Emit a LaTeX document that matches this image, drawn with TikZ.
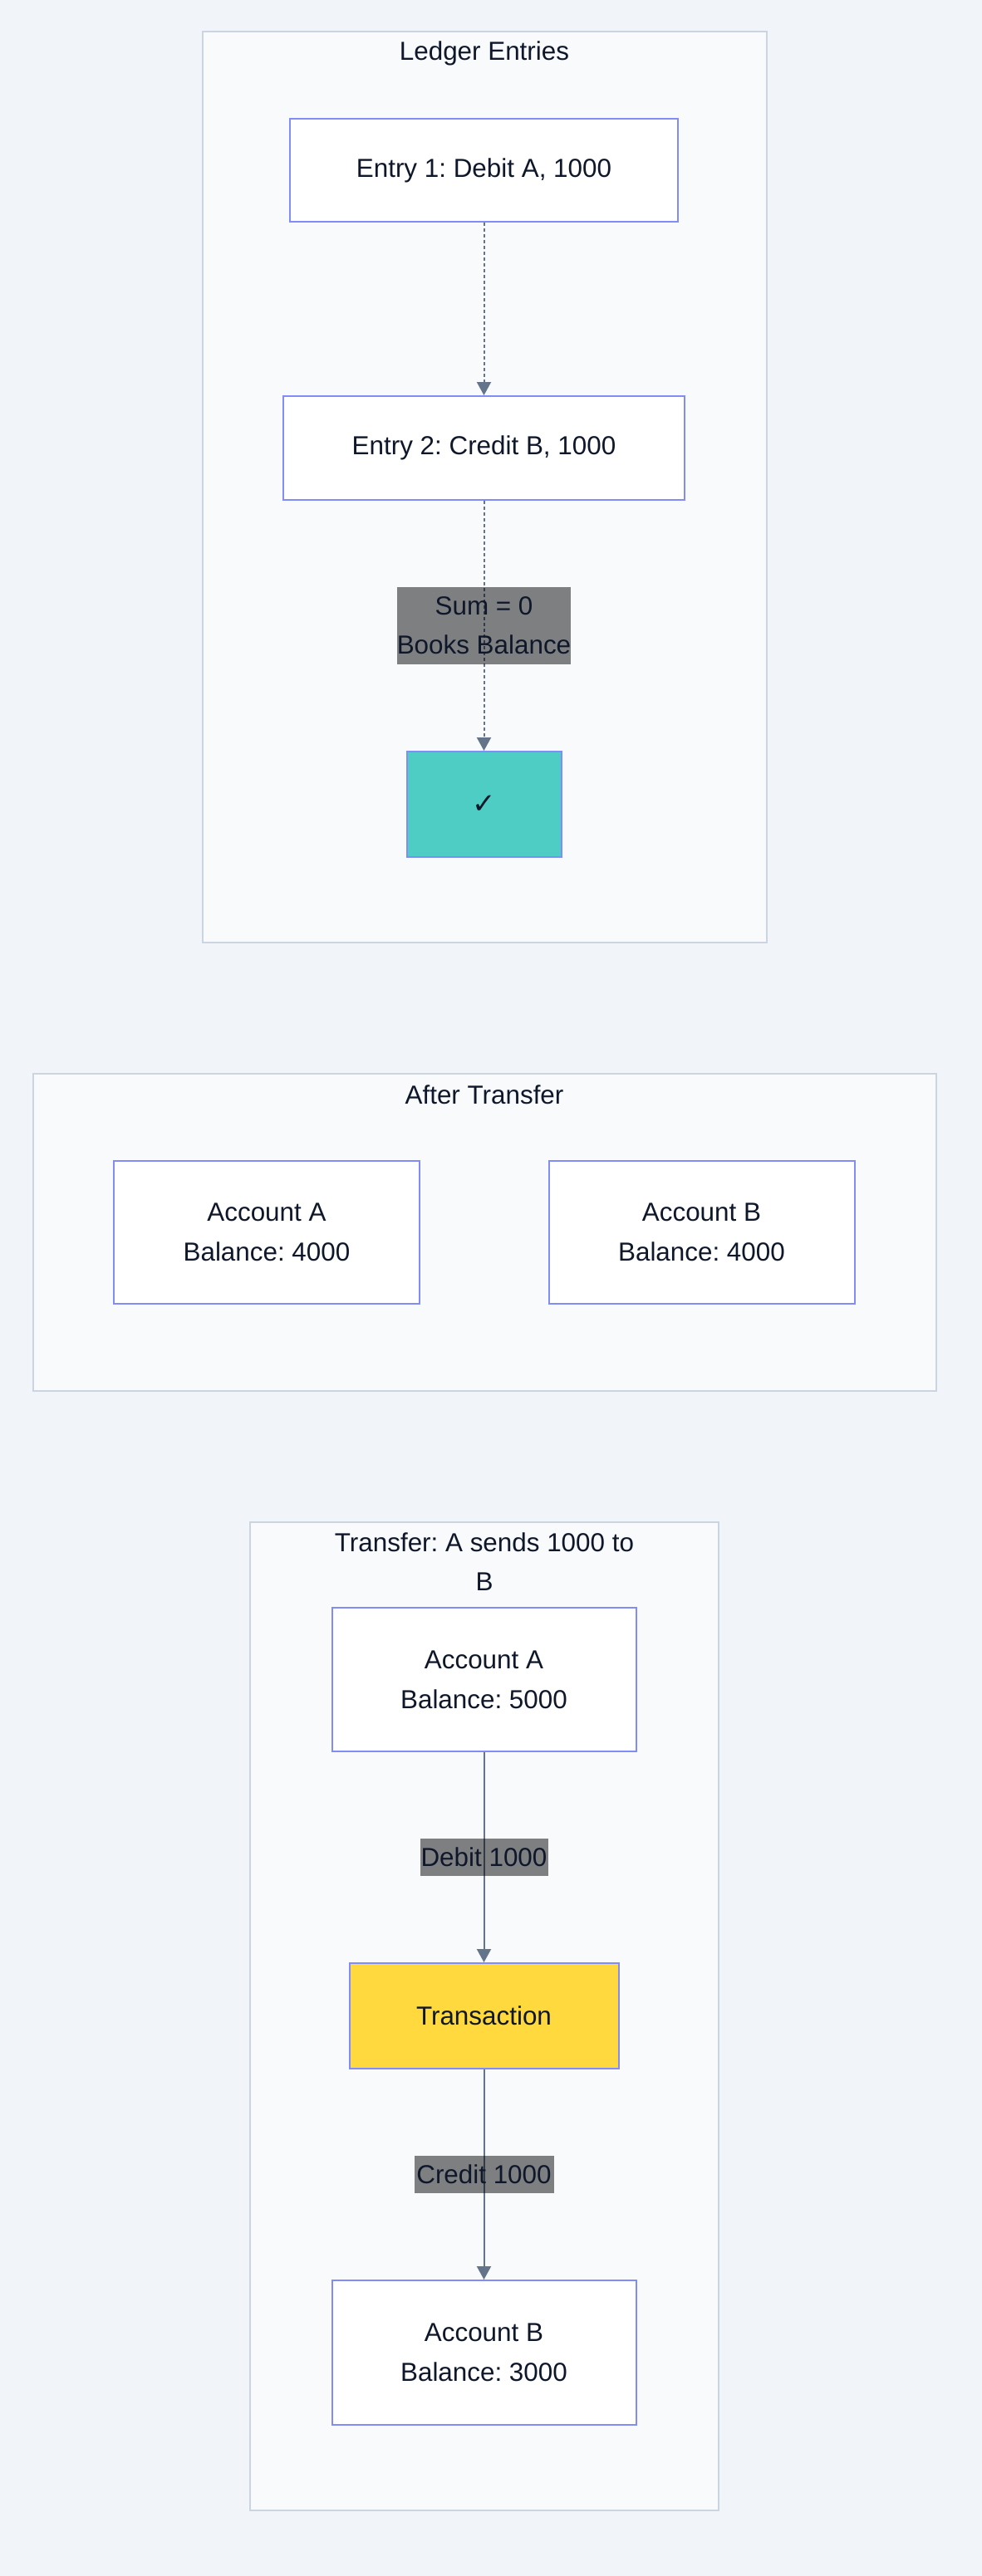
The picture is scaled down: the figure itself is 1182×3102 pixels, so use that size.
\documentclass[tikz,border=0pt]{standalone}
\usepackage{fontspec}
\setmainfont{Liberation Sans}
\newfontfamily\symfont{DejaVu Sans}
\usetikzlibrary{arrows.meta}
\frenchspacing

\definecolor{pagebg}{HTML}{F1F5F9}
\definecolor{clusterfill}{HTML}{F8FAFC}
\definecolor{clusterline}{HTML}{CBD5E1}
\definecolor{nodeline}{HTML}{818CF8}
\definecolor{edgeline}{HTML}{64748B}
\definecolor{textcol}{HTML}{0F172A}
\definecolor{checkfill}{HTML}{4ECDC4}
\definecolor{txfill}{HTML}{FFD93D}

\tikzset{
  cluster/.style={draw=clusterline, fill=clusterfill, line width=1pt},
  clustertitle/.style={text=textcol, align=center, inner sep=0pt,
    font=\fontsize{15.7}{23.5}\selectfont},
  box/.style={shape=rectangle, draw=nodeline, fill=white, line width=1pt,
    text=textcol, align=center, inner sep=0pt,
    font=\fontsize{15.7}{24}\selectfont},
  edgelabel/.style={shape=rectangle, fill=black, fill opacity=0.49,
    text opacity=1, text=textcol, align=center, inner sep=0pt,
    font=\fontsize{15.7}{23.5}\selectfont}
}

\begin{document}
\begin{tikzpicture}[x=0.5pt, y=-0.5pt]

\fill[pagebg] (0,0) rectangle (1182,3102);
\useasboundingbox (0,0) rectangle (1182,3102);

% clusters
\draw[cluster] (244,38) rectangle (923,1135);
\draw[cluster] (40,1293) rectangle (1127,1675);
\draw[cluster] (301,1833) rectangle (865,3023);

\node (ledgertext) at (583,64) [clustertitle] {Ledger Entries};
\node (aftertext) at (583,1318) [clustertitle] {After Transfer};
\node (transfertext) at (583,1881) [clustertitle] {Transfer: A sends 1000 to\\B};

\begin{scope}[every node/.style={box}]
    \node (e1) at (582.5,205) [minimum width=233.5pt, minimum height=62pt] {Entry 1: Debit A, 1000};
    \node (e2) at (582.5,539.5) [minimum width=241.5pt, minimum height=62.5pt] {Entry 2: Credit B, 1000};
    \node (chk) at (582.5,968.5) [fill=checkfill, minimum width=93pt, minimum height=63.5pt] {\symfont\fontsize{17}{20}\selectfont ✓};

    \node (aftera) at (321,1484) [minimum width=184pt, minimum height=86pt] {Account A\\Balance: 4000};
    \node (afterb) at (844.5,1484) [minimum width=184pt, minimum height=86pt] {Account B\\Balance: 4000};

    \node (a) at (582.5,2022.5) [minimum width=183pt, minimum height=86.5pt] {Account A\\Balance: 5000};
    \node (tx) at (582.5,2427.5) [fill=txfill, minimum width=162pt, minimum height=63.5pt] {Transaction};
    \node (b) at (582.5,2833) [minimum width=183pt, minimum height=87pt] {Account B\\Balance: 3000};
\end{scope}

\begin{scope}[>={Triangle[length=8pt, width=8.5pt]},
              every edge/.style={draw=edgeline, line width=1pt}]

    \path [->, dash pattern=on 2pt off 1.5pt] (e1) edge node {} (e2);
    \path [->, dash pattern=on 2pt off 1.5pt] (e2) edge node[edgelabel, minimum height=46.5pt] {Sum = 0\\Books Balance} (chk);

    \path [->] (a) edge node[edgelabel, minimum width=77pt, minimum height=22.5pt] {Debit 1000} (tx);
    \path [->] (tx) edge node[edgelabel, minimum width=84pt, minimum height=22.5pt] {Credit 1000} (b);
\end{scope}
\end{tikzpicture}
\end{document}
